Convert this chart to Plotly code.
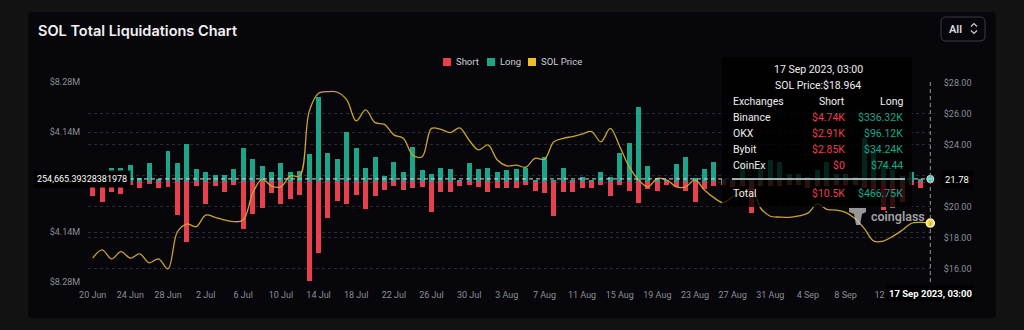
import plotly.graph_objects as go
import pandas as pd

# ---------------- data ----------------
START_DATE = "2023-06-20"
END_DATE = "2023-09-17"
dates = pd.date_range(START_DATE, END_DATE, freq="D")

# Long liquidations ($M) - drawn upward
long_m = [0.41, 0.33, 1.16, 1.16, 1.41, 0.33, 1.57, 0.25, 2.57, 1.57,
          3.15, 1.08, 0.83, 0.58, 0.58, 1.08, 2.82, 1.90, 1.32, 0.83,
          1.57, 0.83, 0.91, 2.32, 7.04, 2.40, 1.90, 4.14, 2.82, 1.16,
          2.07, 0.50, 1.66, 0.83, 2.90, 0.99, 0.66, 1.16, 1.08, 0.17,
          1.57, 1.08, 1.16, 0.83, 0.99, 1.08, 1.16, 0.17, 2.07, 0.17,
          1.16, 0.17, 0.41, 0.17, 0.83, 0.41, 2.40, 3.23, 6.21, 1.32,
          0.33, 0.17, 1.49, 2.07, 0.33, 1.08, 1.66, 0.25, 0.25, 1.66,
          0.33, 1.32, 1.82, 1.66, 0.66, 0.66, 0.41, 0.99, 1.66, 0.66,
          0.66, 0.41, 3.64, 2.65, 1.66, 0.99, 0.50, 0.83, 0.25, 0.46675]

# Short liquidations ($M) - drawn downward
short_m = [1.16, 1.66, 0.83, 0.99, 0.25, 0.50, 0.17, 0.50, 0.41, 2.73,
           4.97, 0.33, 1.82, 0.33, 0.83, 0.25, 3.89, 2.65, 2.15, 0.91,
           1.82, 1.41, 1.08, 8.20, 5.88, 2.98, 1.57, 1.82, 1.08, 2.24,
           1.16, 0.66, 0.33, 0.66, 0.50, 0.41, 2.48, 0.83, 0.83, 0.33,
           0.25, 0.41, 0.83, 0.50, 0.50, 0.50, 0.25, 0.75, 0.91, 2.82,
           0.83, 0.83, 0.50, 0.50, 0.25, 1.16, 0.25, 0.75, 1.74, 0.58,
           0.75, 0.25, 0.41, 0.75, 1.66, 0.58, 0.33, 0.25, 0.41, 0.33,
           2.57, 0.33, 0.33, 0.33, 0.25, 0.25, 0.50, 0.33, 0.33, 0.25,
           0.25, 0.25, 0.50, 1.08, 2.32, 2.15, 1.66, 0.25, 0.50, 0.0105]

# SOL price ($)
sol_price = [16.70, 17.23, 16.65, 17.12, 16.70, 16.97, 16.40, 16.65, 16.00, 18.40,
             18.90, 18.73, 19.48, 19.33, 19.16, 19.05, 19.16, 20.88, 21.80, 21.35,
             21.30, 22.00, 22.00, 26.15, 27.33, 27.44, 27.40, 26.90, 25.55, 26.26,
             25.44, 25.33, 24.65, 24.43, 23.35, 23.24, 25.07, 25.00, 24.80, 25.10,
             24.30, 23.68, 24.00, 23.03, 22.65, 22.70, 22.56, 23.14, 23.07, 24.20,
             24.43, 24.54, 24.70, 24.86, 24.20, 25.07, 23.90, 22.60, 21.74, 21.30,
             21.85, 21.74, 21.30, 21.30, 21.74, 21.10, 20.60, 20.28, 20.66, 20.88,
             21.20, 19.90, 19.40, 19.35, 19.33, 19.42, 19.60, 20.20, 19.85, 19.80,
             19.65, 19.25, 18.60, 17.80, 17.80, 18.10, 18.50, 18.95, 19.00, 18.964]

x_tick_dates = ["2023-06-20", "2023-06-24", "2023-06-28", "2023-07-02", "2023-07-06",
                "2023-07-10", "2023-07-14", "2023-07-18", "2023-07-22", "2023-07-26",
                "2023-07-30", "2023-08-03", "2023-08-07", "2023-08-11", "2023-08-15",
                "2023-08-19", "2023-08-23", "2023-08-27", "2023-08-31", "2023-09-04",
                "2023-09-08", "2023-09-12"]
x_tick_text = ["20 Jun", "24 Jun", "28 Jun", "2 Jul", "6 Jul", "10 Jul", "14 Jul",
               "18 Jul", "22 Jul", "26 Jul", "30 Jul", "3 Aug", "7 Aug", "11 Aug",
               "15 Aug", "19 Aug", "23 Aug", "27 Aug", "31 Aug", "4 Sep", "8 Sep", "12 S"]

y_tick_vals = [-8.28e6, -4.14e6, 0, 4.14e6, 8.28e6]
y_tick_text = ["$8.28M", "$4.14M", "", "$4.14M", "$8.28M"]
y2_tick_vals = [16, 18, 20, 22, 24, 26, 28]
y2_tick_text = ["$16.00", "$18.00", "$20.00", "", "$24.00", "$26.00", "$28.00"]

# hover tooltip content
tip_date = "17 Sep 2023, 03:00"
tip_price = "SOL Price:$18.964"
tip_exchanges = ["Binance", "OKX", "Bybit", "CoinEx"]
tip_short = ["$4.74K", "$2.91K", "$2.85K", "$0"]
tip_long = ["$336.32K", "$96.12K", "$34.24K", "$74.44"]
tip_total = ("$10.5K", "$466.75K")
cross_y_value = 254665.39328381978
cross_y_text = "254,665.39328381978"
cross_y2_value = 21.78
cross_y2_text = "21.78"

# ---------------- styling ----------------
FONT = "Roboto"
RED = "#e8404d"
TEAL = "#1da58a"
GOLD = "#c9a431"
YELLOW = "#f0c020"
GRID = "#2b2b33"
TICK = "#8c8f96"

W, H = 1024, 330
L, R, T, B = 88, 935, 82, 282


def fx(p):
    return (p - L) / (R - L)


def fy(p):
    return (B - p) / (B - T)


def rrect(x0, y0, x1, y1, r):
    pts = (f"M {fx(x0 + r)},{fy(y0)} L {fx(x1 - r)},{fy(y0)} Q {fx(x1)},{fy(y0)} {fx(x1)},{fy(y0 + r)} "
           f"L {fx(x1)},{fy(y1 - r)} Q {fx(x1)},{fy(y1)} {fx(x1 - r)},{fy(y1)} "
           f"L {fx(x0 + r)},{fy(y1)} Q {fx(x0)},{fy(y1)} {fx(x0)},{fy(y1 - r)} "
           f"L {fx(x0)},{fy(y0 + r)} Q {fx(x0)},{fy(y0)} {fx(x0 + r)},{fy(y0)} Z")
    return pts


def poly(points):
    s = "M " + " L ".join(f"{fx(a)},{fy(b)}" for a, b in points) + " Z"
    return s


def label(x, y, text, size=10.5, color="#e6e6e6", xanchor="left", weight=400, bg=None, family=FONT):
    d = dict(xref="paper", yref="paper", x=fx(x), y=fy(y), text=text, showarrow=False,
             xanchor=xanchor, yanchor="middle",
             font=dict(family=family, size=size, color=color, weight=weight))
    if bg:
        d["bgcolor"] = bg
    return d


DAY_MS = 86400000

fig = go.Figure()
fig.add_trace(go.Bar(x=dates, y=[v * 1e6 for v in long_m], name="Long",
                     marker=dict(color=TEAL, line=dict(width=0)), width=0.53 * DAY_MS))
fig.add_trace(go.Bar(x=dates, y=[-v * 1e6 for v in short_m], name="Short",
                     marker=dict(color=RED, line=dict(width=0)), width=0.53 * DAY_MS))
fig.add_trace(go.Scatter(x=dates, y=sol_price, name="SOL Price", yaxis="y2", mode="lines",
                         line=dict(color=GOLD, width=1.3, shape="spline", smoothing=1.0)))
# crosshair markers
fig.add_trace(go.Scatter(x=[dates[-1]], y=[cross_y_value], mode="markers",
                         marker=dict(color="#3fd0b0", size=7, line=dict(color="#bff5e8", width=1))))
fig.add_trace(go.Scatter(x=[dates[-1]], y=[sol_price[-1]], yaxis="y2", mode="markers",
                         marker=dict(color="#f7d54a", size=8, line=dict(color="#fff3b0", width=1.5))))

shapes = []
# card background
shapes.append(dict(type="path", xref="paper", yref="paper", path=rrect(28, 12, 996, 318, 4),
                   fillcolor="#06060b", line=dict(width=0), layer="below"))
# All button
shapes.append(dict(type="path", xref="paper", yref="paper", path=rrect(941, 17, 985, 41, 5),
                   fillcolor="rgba(0,0,0,0)", line=dict(color="#3a3a42", width=1), layer="above"))
shapes.append(dict(type="path", xref="paper", yref="paper",
                   path=f"M {fx(971)},{fy(26.5)} L {fx(974)},{fy(23.5)} L {fx(977)},{fy(26.5)}",
                   line=dict(color="#cfcfcf", width=1.2), layer="above"))
shapes.append(dict(type="path", xref="paper", yref="paper",
                   path=f"M {fx(971)},{fy(30.5)} L {fx(974)},{fy(33.5)} L {fx(977)},{fy(30.5)}",
                   line=dict(color="#cfcfcf", width=1.2), layer="above"))
# legend squares
for x0, c in [(443, RED), (487, TEAL), (528, YELLOW)]:
    shapes.append(dict(type="rect", xref="paper", yref="paper", x0=fx(x0), x1=fx(x0 + 8),
                       y0=fy(66), y1=fy(58), fillcolor=c, line=dict(width=0)))
# crosshair lines
shapes.append(dict(type="line", xref="paper", yref="y", x0=0, x1=1, y0=cross_y_value, y1=cross_y_value,
                   line=dict(color="#d8d8d8", width=1, dash="4px,3px"), layer="above"))
shapes.append(dict(type="line", xref="x", yref="paper", x0=dates[-1], x1=dates[-1], y0=0, y1=1,
                   line=dict(color="#9a9a9a", width=1, dash="4px,3px"), layer="above"))
# tooltip box
shapes.append(dict(type="rect", xref="paper", yref="paper", x0=fx(722), x1=fx(912), y0=fy(207), y1=fy(57),
                   fillcolor="rgba(0,0,0,0.78)", line=dict(width=0), layer="above"))
shapes.append(dict(type="line", xref="paper", yref="paper", x0=fx(732), x1=fx(905), y0=fy(179), y1=fy(179),
                   line=dict(color="#e0e0e0", width=1.5), layer="above"))
# coinglass logo
shapes.append(dict(type="path", xref="paper", yref="paper",
                   path=poly([(849, 208), (866, 208), (866, 212), (862, 214), (860, 225),
                              (856, 225), (854, 214), (849, 212)]),
                   fillcolor="rgba(200,200,200,0.75)", line=dict(width=0), layer="above"))

ann = []
ann.append(label(36, 30, "SOL Total Liquidations Chart", size=14.5, color="#f2f2f2", weight=600, family="Inter"))
ann.append(label(947, 29, "All", size=11, color="#dddddd", weight=600))
ann.append(label(454, 62, "Short", size=9.5, color="#d0d0d0"))
ann.append(label(498, 62, "Long", size=9.5, color="#d0d0d0"))
ann.append(label(539, 62, "SOL Price", size=9.5, color="#d0d0d0"))
# tooltip text
ann.append(label(818, 69, tip_date, size=10.5, color="#eeeeee", xanchor="center"))
ann.append(label(818, 85, tip_price, size=10.5, color="#eeeeee", xanchor="center"))
ann.append(label(731, 101, "Exchanges", size=10.5, color="#eeeeee"))
ann.append(label(847, 101, "Short", size=10.5, color="#eeeeee", xanchor="right"))
ann.append(label(905, 101, "Long", size=10.5, color="#eeeeee", xanchor="right"))
for k, (ex, s, lg) in enumerate(zip(tip_exchanges, tip_short, tip_long)):
    yy = 117 + 16 * k
    ann.append(label(731, yy, ex, size=10.5, color="#eeeeee"))
    ann.append(label(847, yy, s, size=10.5, color=RED, xanchor="right"))
    ann.append(label(905, yy, lg, size=10.5, color=TEAL, xanchor="right"))
ann.append(label(731, 193, "Total", size=10.5, color="#eeeeee"))
ann.append(label(847, 193, tip_total[0], size=10.5, color=RED, xanchor="right"))
ann.append(label(905, 193, tip_total[1], size=10.5, color=TEAL, xanchor="right"))
# watermark
ann.append(label(869, 216, "coinglass", size=12.5, color="rgba(205,205,205,0.8)", weight=600))
# crosshair labels
ann.append(dict(xref="paper", yref="y", x=fx(131), y=cross_y_value, text=cross_y_text, showarrow=False,
                xanchor="right", yanchor="middle", bgcolor="#000000", borderpad=3,
                font=dict(family=FONT, size=9, color="#ffffff")))
ann.append(dict(xref="paper", yref="y2", x=fx(941), y=cross_y2_value, text=cross_y2_text, showarrow=False,
                xanchor="left", yanchor="middle", bgcolor="#000000", borderpad=3,
                font=dict(family=FONT, size=9.5, color="#ffffff")))
ann.append(dict(xref="x", yref="paper", x=dates[-1], y=fy(293), text=tip_date, showarrow=False,
                xanchor="center", yanchor="middle", bgcolor="#000000", borderpad=2,
                font=dict(family=FONT, size=9.5, color="#ffffff", weight=700)))

fig.update_layout(
    width=W, height=H,
    margin=dict(l=L, r=W - R, t=T, b=H - B, pad=0),
    paper_bgcolor="#121212",
    plot_bgcolor="rgba(0,0,0,0)",
    barmode="relative",
    bargap=0,
    showlegend=False,
    hovermode=False,
    font=dict(family=FONT, color=TICK, size=9),
    shapes=shapes,
    annotations=ann,
    xaxis=dict(type="date", range=["2023-06-19 12:00", "2023-09-17 12:00"],
               tickvals=x_tick_dates, ticktext=x_tick_text, showgrid=False, zeroline=False,
               showline=False, ticks="outside", ticklen=4, tickcolor="rgba(0,0,0,0)",
               tickfont=dict(family=FONT, size=9, color=TICK)),
    yaxis=dict(range=[-8.28e6, 8.28e6], tickvals=y_tick_vals, ticktext=y_tick_text,
               showgrid=True, gridcolor=GRID, griddash="3px,3px", gridwidth=1, zeroline=False,
               ticks="outside", ticklen=5, tickcolor="rgba(0,0,0,0)",
               tickfont=dict(family=FONT, size=9, color=TICK)),
    yaxis2=dict(range=[15.16, 28.06], overlaying="y", side="right", tickvals=y2_tick_vals,
                ticktext=y2_tick_text, showgrid=True, gridcolor=GRID, griddash="3px,3px",
                gridwidth=1, zeroline=False, ticks="outside", ticklen=6,
                tickcolor="rgba(0,0,0,0)", tickfont=dict(family=FONT, size=9, color=TICK)),
)

fig.write_html("out.html")
